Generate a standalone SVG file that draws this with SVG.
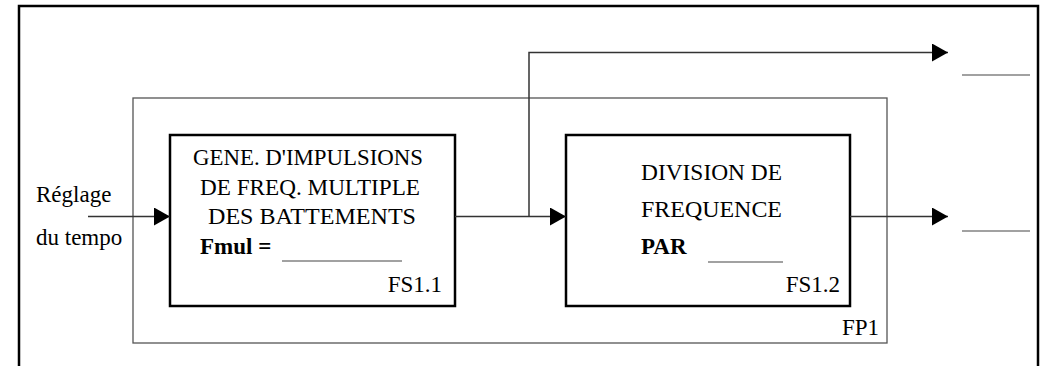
<svg xmlns="http://www.w3.org/2000/svg" width="1043" height="366" viewBox="0 0 1043 366">
  <style>
    .frame { fill: none; stroke: #000; stroke-width: 2.5; }
    .group { fill: none; stroke: #555; stroke-width: 1.3; }
    .box { fill: #fff; stroke: #000; stroke-width: 2.5; }
    .wire { fill: none; stroke: #333; stroke-width: 1.5; }
    .blank { fill: none; stroke: #444; stroke-width: 1.2; }
    text { font-family: "Liberation Serif", "Times New Roman", serif; font-size: 23px; fill: #000; }
    .b { font-weight: bold; }
    .mid { text-anchor: middle; }
    .end { text-anchor: end; }
  </style>
  <defs>
    <marker id="arrow" viewBox="0 0 16 18" refX="16" refY="9" markerWidth="16" markerHeight="18" markerUnits="userSpaceOnUse" orient="auto">
      <path d="M0,0 L16,9 L0,18 Z" fill="#000"/>
    </marker>
  </defs>

  <!-- outer frame -->
  <rect id="frame" class="frame" x="19" y="6" width="1019" height="370"/>

  <g font-family="Liberation Serif, Times New Roman, serif">
    <!-- main function FP1 -->
    <g id="fp1">
      <rect class="group" x="133" y="98" width="754" height="245"/>
      <text class="end" x="879" y="335">FP1</text>
    </g>

    <!-- input label -->
    <g id="input">
      <text x="36" y="202">Réglage</text>
      <text x="36" y="245">du tempo</text>
    </g>

    <!-- FS1.1 pulse generator -->
    <g id="fs11">
      <rect class="box" x="170" y="135" width="285" height="171"/>
      <text class="mid" x="308" y="165" textLength="230" lengthAdjust="spacingAndGlyphs">GENE. D'IMPULSIONS</text>
      <text class="mid" x="310" y="195" textLength="220" lengthAdjust="spacingAndGlyphs">DE FREQ. MULTIPLE</text>
      <text class="mid" x="312" y="224" textLength="208" lengthAdjust="spacingAndGlyphs">DES BATTEMENTS</text>
      <text class="b" x="200" y="254">Fmul =</text>
      <line class="blank" x1="282" y1="261" x2="402" y2="261"/>
      <text class="end" x="442" y="292">FS1.1</text>
    </g>

    <!-- FS1.2 frequency divider -->
    <g id="fs12">
      <rect class="box" x="566" y="135" width="284" height="171"/>
      <text x="641" y="180" textLength="141" lengthAdjust="spacingAndGlyphs">DIVISION DE</text>
      <text x="641" y="217" textLength="141" lengthAdjust="spacingAndGlyphs">FREQUENCE</text>
      <text class="b" x="641" y="254">PAR</text>
      <line class="blank" x1="708" y1="262" x2="783" y2="262"/>
      <text class="end" x="840" y="292">FS1.2</text>
    </g>

    <!-- output blanks -->
    <g id="outputs">
      <line class="blank" x1="962" y1="75" x2="1030" y2="75"/>
      <line class="blank" x1="962" y1="231" x2="1030" y2="231"/>
    </g>
  </g>

  <!-- connectors -->
  <g id="connectors">
    <line class="wire" x1="88" y1="216.5" x2="170" y2="216.5" marker-end="url(#arrow)"/>
    <line class="wire" x1="455" y1="216.5" x2="566" y2="216.5" marker-end="url(#arrow)"/>
    <polyline class="wire" points="529,216.5 529,52.5 948,52.5" marker-end="url(#arrow)"/>
    <line class="wire" x1="850" y1="216.5" x2="948" y2="216.5" marker-end="url(#arrow)"/>
  </g>
</svg>
